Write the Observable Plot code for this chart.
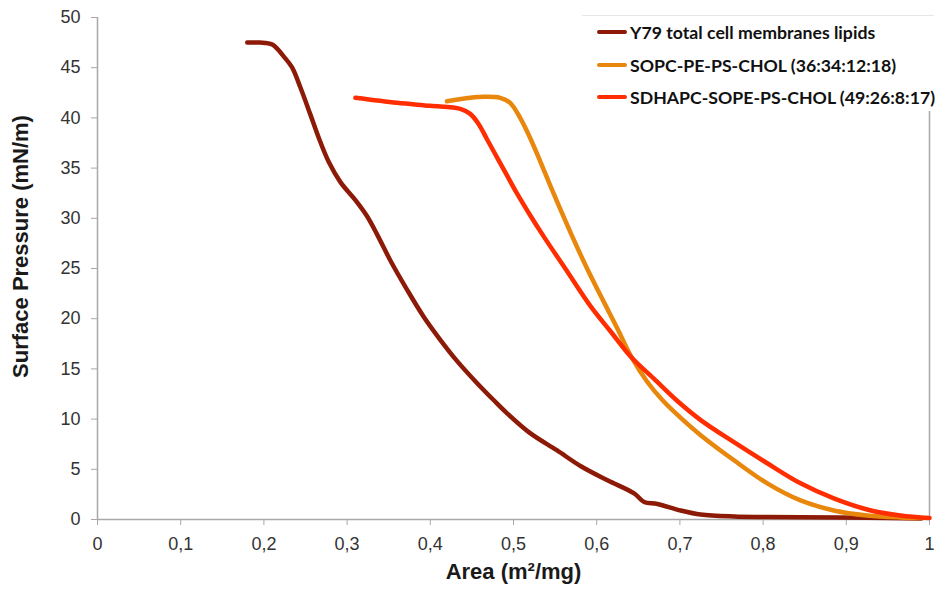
<!DOCTYPE html>
<html><head><meta charset="utf-8">
<script src="https://cdn.jsdelivr.net/npm/d3@7"></script>
<script src="https://cdn.jsdelivr.net/npm/@observablehq/plot@0.6"></script>
<style>
body{margin:0;background:#fff;}
#wrap{position:relative;width:938px;height:589px;}
#legend{position:absolute;left:582px;top:15px;width:352px;height:95px;background:#fff;border-top:1px solid #e6e6e6;font-family:Lato,"Open Sans",sans-serif;font-weight:bold;font-size:17.7px;color:#111;}
.item{position:absolute;left:15px;height:22px;display:flex;align-items:center;white-space:nowrap;}
.sw{width:30px;height:4px;border-radius:2px;margin-right:3px;}
</style></head><body><div id="wrap"><div id="legend"></div></div>
<script>
const seriesNames = ["Y79 total cell membranes lipids","SOPC-PE-PS-CHOL (36:34:12:18)","SDHAPC-SOPE-PS-CHOL (49:26:8:17)"];
const seriesColors = ["#8c1a07","#e8870c","#ff2d00"];

const y79X = [0.180,0.195,0.210,0.224,0.234,0.244,0.256,0.266,0.278,0.292,0.310,0.324,0.336,0.352,0.372,0.392,0.412,0.432,0.456,0.476,0.492,0.520,0.552,0.581,0.613,0.645,0.657,0.673,0.701,0.725,0.765,0.800,0.845,0.925,0.990];
const y79Y = [47.5,47.5,47.3,46.1,45.0,43.0,40.3,38.0,35.6,33.6,31.8,30.2,28.4,25.8,22.9,20.2,17.9,15.8,13.6,11.9,10.6,8.6,6.9,5.3,3.9,2.6,1.75,1.55,0.9,0.5,0.3,0.25,0.22,0.18,0.1];

const sopcX = [0.420,0.448,0.465,0.484,0.496,0.508,0.520,0.532,0.546,0.569,0.589,0.609,0.625,0.641,0.660,0.680,0.700,0.725,0.765,0.805,0.845,0.885,0.925,0.965,0.990];
const sopcY = [41.65,42.0,42.1,42.0,41.5,40.0,38.0,35.7,32.9,28.5,24.9,21.6,19.0,16.3,13.8,11.8,10.2,8.4,5.9,3.6,1.9,0.9,0.4,0.2,0.15];

const sdhX = [0.310,0.360,0.400,0.436,0.448,0.458,0.468,0.480,0.492,0.504,0.520,0.537,0.563,0.593,0.617,0.641,0.669,0.697,0.725,0.765,0.805,0.845,0.885,0.925,0.965,1.000];
const sdhY = [42.0,41.5,41.2,40.9,40.4,39.4,37.9,36.1,34.3,32.5,30.3,28.1,24.9,21.2,18.7,16.2,14.0,11.8,9.9,7.7,5.6,3.6,2.1,1.0,0.4,0.15];

const xTicks = [0,0.1,0.2,0.3,0.4,0.5,0.6,0.7,0.8,0.9,1];
const xTickLabels = ["0","0,1","0,2","0,3","0,4","0,5","0,6","0,7","0,8","0,9","1"];
const yTicks = [0,5,10,15,20,25,30,35,40,45,50];
const xTitle = "Area (m²/mg)";
const yTitle = "Surface Pressure (mN/m)";

const toRows = (xs, ys) => xs.map((x, i) => ({x, y: ys[i]}));
const xLab = new Map(xTicks.map((t, i) => [t, xTickLabels[i]]));
const axisGray = "#a8a8a8";

const chart = Plot.plot({
  width: 938, height: 589,
  marginLeft: 97, marginRight: 9, marginTop: 17, marginBottom: 70,
  x: {domain: [0, 1]},
  y: {domain: [0, 50]},
  style: {fontFamily: "'Liberation Sans', Arial, sans-serif", fontSize: "18px", color: "#333", background: "#fff"},
  marks: [
    Plot.ruleX([1], {stroke: axisGray, strokeWidth: 1.5}),
    Plot.ruleX([0], {stroke: axisGray, strokeWidth: 1.5}),
    Plot.ruleY([0], {stroke: axisGray, strokeWidth: 1.5}),
    Plot.axisX({ticks: xTicks, tickFormat: d => xLab.get(d), tickSize: 6, tickPadding: 12, stroke: axisGray, fill: "#333", label: null}),
    Plot.axisY({ticks: yTicks, tickSize: 6, tickPadding: 11, stroke: axisGray, fill: "#333", label: null}),
    Plot.line(toRows(y79X, y79Y), {x: "x", y: "y", stroke: seriesColors[0], strokeWidth: 4.5, curve: "catmull-rom"}),
    Plot.line(toRows(sopcX, sopcY), {x: "x", y: "y", stroke: seriesColors[1], strokeWidth: 4.5, curve: "catmull-rom"}),
    Plot.line(toRows(sdhX, sdhY), {x: "x", y: "y", stroke: seriesColors[2], strokeWidth: 4.5, curve: "catmull-rom"}),
    Plot.text([xTitle], {frameAnchor: "bottom", dy: 59, fontWeight: "bold", fontSize: 22, fill: "#1a1a1a"}),
    Plot.text([yTitle], {frameAnchor: "left", textAnchor: "middle", dx: -77, dy: -22, rotate: -90, fontWeight: "bold", fontSize: 22, fill: "#1a1a1a"})
  ]
});
const wrap = document.getElementById("wrap");
wrap.insertBefore(chart, wrap.firstChild);

const legend = document.getElementById("legend");
const tops = [5, 38, 70];
seriesNames.forEach((n, i) => {
  const it = document.createElement("div");
  it.className = "item";
  it.style.top = tops[i] + "px";
  it.innerHTML = `<span class="sw" style="background:${seriesColors[i]}"></span><span>${n}</span>`;
  legend.appendChild(it);
});
</script></body></html>
